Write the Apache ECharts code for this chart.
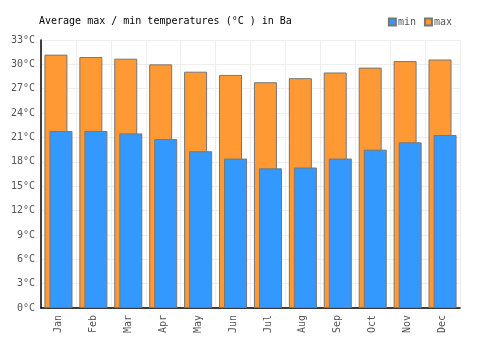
<!DOCTYPE html>
<html>
<head>
<meta charset="utf-8">
<script src="https://cdn.jsdelivr.net/npm/echarts@6/dist/echarts.min.js"></script>
<style>
  html, body { margin: 0; padding: 0; background: #fff; }
  #chart { width: 500px; height: 350px; }
</style>
</head>
<body>
<div id="chart"></div>
<script>
var months = ['Jan', 'Feb', 'Mar', 'Apr', 'May', 'Jun', 'Jul', 'Aug', 'Sep', 'Oct', 'Nov', 'Dec'];
var maxTemps = [31.2, 30.9, 30.7, 30.0, 29.1, 28.7, 27.8, 28.3, 29.0, 29.6, 30.4, 30.6];
var minTemps = [21.8, 21.8, 21.5, 20.8, 19.3, 18.4, 17.2, 17.3, 18.4, 19.5, 20.4, 21.3];

var font = 'DejaVu Sans Mono';
var chart = echarts.init(document.getElementById('chart'));
chart.setOption({
  animation: false,
  textStyle: { fontFamily: font },
  title: {
    text: 'Average max / min temperatures (°C ) in Ba',
    left: 34, top: 11,
    textStyle: { fontFamily: font, fontSize: 10, fontWeight: 'normal', color: '#000' }
  },
  legend: {
    right: 43, top: 12,
    itemWidth: 7, itemHeight: 7, itemGap: 8,
    icon: 'rect',
    textStyle: { fontFamily: font, fontSize: 10, color: '#555', padding: [0, 0, 0, -3] },
    data: ['min', 'max']
  },
  grid: { left: 41, right: 40, top: 40, bottom: 42 },
  xAxis: {
    type: 'category',
    data: months,
    axisLine: { lineStyle: { color: '#000', width: 1.5 } },
    axisTick: { show: false },
    axisLabel: { rotate: 90, color: '#555', fontSize: 10, fontFamily: font, margin: 7 },
    splitLine: { show: true, lineStyle: { color: '#eee' } }
  },
  yAxis: {
    type: 'value',
    min: 0, max: 33, interval: 3,
    axisLine: { show: true, lineStyle: { color: '#000', width: 1.5 } },
    axisTick: { show: false },
    axisLabel: { formatter: '{value}°C', color: '#555', fontSize: 10, fontFamily: font, margin: 6 },
    splitLine: { lineStyle: { color: '#eee' } }
  },
  series: [
    {
      name: 'max',
      type: 'bar',
      data: maxTemps,
      barWidth: 23,
      barGap: '-78%',
      z: 1,
      itemStyle: { color: '#ff9933', borderColor: '#777', borderWidth: 1 }
    },
    {
      name: 'min',
      type: 'bar',
      data: minTemps,
      barWidth: 23,
      z: 2,
      itemStyle: { color: '#3399ff', borderColor: '#777', borderWidth: 1 }
    }
  ]
});
</script>
</body>
</html>
